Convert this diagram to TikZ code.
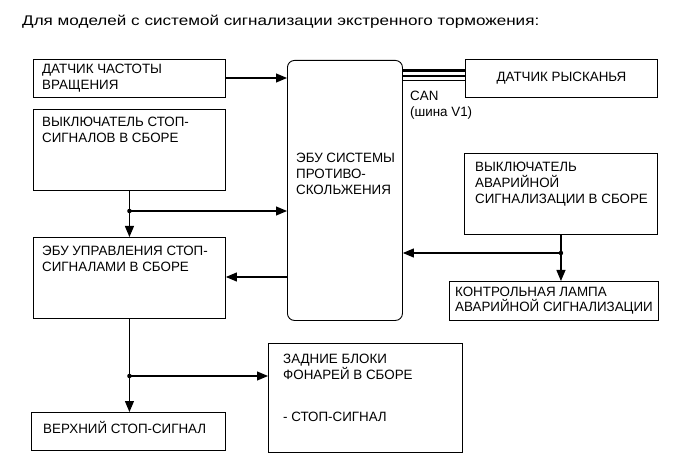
\documentclass[tikz,border=0pt]{standalone}
\usepackage{fontspec}
\setmainfont{Liberation Sans}
\newfontfamily\boxfam[FakeStretch=0.99]{Liberation Sans}
\newfontfamily\titlefam[FakeStretch=1.22]{Liberation Sans}
\usetikzlibrary{arrows.meta}
\newcommand{\boxfont}{\boxfam\fontsize{13.5pt}{16pt}\selectfont}
\newcommand{\titlefont}{\titlefam\fontsize{14pt}{16pt}\selectfont}
\tikzset{
  box/.style={draw, line width=0.9pt, inner sep=0pt, anchor=north west},
  ecubox/.style={draw, line width=0.9pt, inner sep=0pt, anchor=north west, rounded corners=7pt},
  txt/.style={anchor=base west, align=left, inner sep=0pt, font=\boxfont},
  arr/.style={-{Triangle[length=11pt,width=9pt]}, line width=1.1pt},
  wire/.style={line width=1.1pt},
  jdot/.style={circle, fill, inner sep=0pt, minimum size=4.5pt},
  canline/.style={line width=#1}
}
\begin{document}
\begin{tikzpicture}[x=1pt,y=-1pt]
\useasboundingbox (0,0) rectangle (691,465);
% title
\node[anchor=base west, inner sep=0pt, font=\titlefont] (title) at (22,26) {Для моделей с системой сигнализации экстренного торможения:};
% boxes (text nodes anchored at the baseline of their last line)
\node[box, minimum width=192pt, minimum height=38pt] (A) at (33,59) {};
\node[txt] (At) at (42,90) {ДАТЧИК ЧАСТОТЫ\\ВРАЩЕНИЯ};
\node[box, minimum width=192pt, minimum height=81pt] (B) at (33,109) {};
\node[txt] (Bt) at (42,143) {ВЫКЛЮЧАТЕЛЬ СТОП-\\СИГНАЛОВ В СБОРЕ};
\node[box, minimum width=192pt, minimum height=81pt] (C) at (33,237) {};
\node[txt] (Ct) at (42,272) {ЭБУ УПРАВЛЕНИЯ СТОП-\\СИГНАЛАМИ В СБОРЕ};
\node[box, minimum width=194pt, minimum height=38pt] (D) at (31,412) {};
\node[txt] (Dt) at (43,433) {ВЕРХНИЙ СТОП-СИГНАЛ};
\node[box, minimum width=194pt, minimum height=109pt] (E) at (268,343) {};
\node[txt] (Et) at (283,379) {ЗАДНИЕ БЛОКИ\\ФОНАРЕЙ В СБОРЕ};
\node[txt] (Et2) at (283,421) {- СТОП-СИГНАЛ};
\node[ecubox, minimum width=115pt, minimum height=260pt] (ECU) at (287,60) {};
\node[txt] (ECUt) at (296,195) {ЭБУ СИСТЕМЫ\\ПРОТИВО-\\СКОЛЬЖЕНИЯ};
\node[box, minimum width=192pt, minimum height=38pt] (Y) at (465,59) {};
\node[inner sep=0pt, font=\boxfont] (Yt) at (Y.center) {ДАТЧИК РЫСКАНЬЯ};
\node[box, minimum width=193pt, minimum height=81pt] (H) at (464,153) {};
\node[txt] (Ht) at (475,204) {ВЫКЛЮЧАТЕЛЬ\\АВАРИЙНОЙ\\СИГНАЛИЗАЦИИ В СБОРЕ};
\node[box, minimum width=209pt, minimum height=39pt] (L) at (449,281) {};
\node[txt] (Lt) at (455,312) {КОНТРОЛЬНАЯ ЛАМПА\\АВАРИЙНОЙ СИГНАЛИЗАЦИИ};
% CAN
\node[txt] (CANt) at (410,117) {CAN\\(шина V1)};
\draw[canline=2.6pt] (ECU.east |- 0,70.5) -- (Y.west |- 0,70.5);
\draw[canline=1.3pt] (ECU.east |- 0,76) -- (Y.west |- 0,76);
\draw[canline=1.3pt] (ECU.east |- 0,80.5) -- (Y.west |- 0,80.5);
% junctions
\coordinate (j1) at (B.south |- 0,211);
\coordinate (j2) at (H.south |- 0,253);
\coordinate (j3) at (C.south |- 0,376);
\node[jdot] (j1d) at (j1) {};
\node[jdot] (j2d) at (j2) {};
\node[jdot] (j3d) at (j3) {};
% connectors
\draw[arr] (A.east |- 0,78) -- (ECU.west |- 0,78);
\draw[wire] (B.south) -- (j1);
\draw[arr] (j1) -- (C.north);
\draw[arr] (j1) -- (ECU.west |- j1);
\draw[arr] (ECU.west |- 0,277) -- (C.east |- 0,277);
\draw[wire] (H.south) -- (j2);
\draw[arr] (j2) -- (ECU.east |- j2);
\draw[arr] (j2) -- (L.north -| j2);
\draw[wire] (C.south) -- (j3);
\draw[arr] (j3) -- (D.north -| j3);
\draw[arr] (j3) -- (E.west |- j3);
\end{tikzpicture}
\end{document}
